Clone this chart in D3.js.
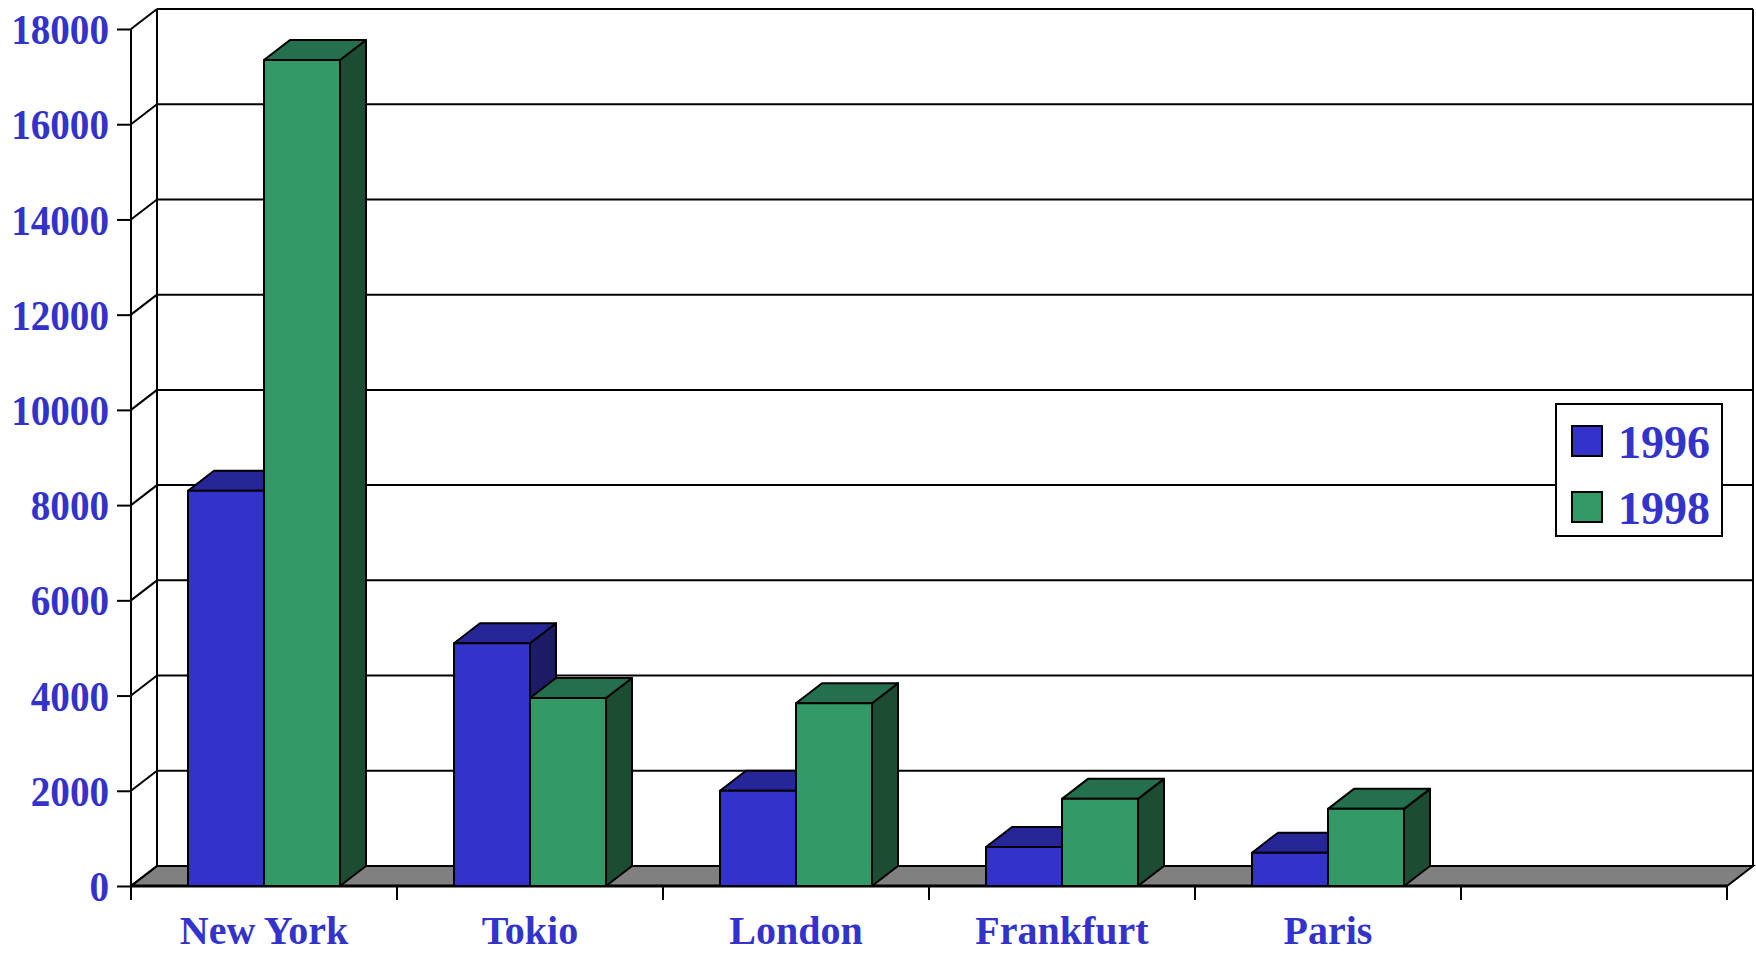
<!DOCTYPE html>
<html>
<head>
<meta charset="utf-8">
<script src="https://cdn.jsdelivr.net/npm/d3@7"></script>
<style>
  body { margin: 0; background: #fff; }
  text { font-family: "Liberation Serif", "Times New Roman", serif; font-weight: bold; fill: #3333cc; }
</style>
</head>
<body>
<div id="chart"></div>
<script>
// data
const categories = ["New York", "Tokio", "London", "Frankfurt", "Paris"];
const seriesNames = ["1996", "1998"];
const values1996 = [8300, 5100, 2000, 820, 700];
const values1998 = [17350, 3950, 3840, 1830, 1620];
const yTicks = [0, 2000, 4000, 6000, 8000, 10000, 12000, 14000, 16000, 18000];

const width = 1756, height = 953;
const DX = 26, DY = -20; // 3d depth offset
const squeeze = 0.91;    // the y labels are a bit condensed in the original
const colors = {
    "1996": {front: "#3333cc", top: "#262699", side: "#1c1c66"},
    "1998": {front: "#339966", top: "#24704e", side: "#1c4d33"}
};

let svg = d3.select("#chart").append("svg")
    .attr("width", width)
    .attr("height", height);

let y = d3.scaleLinear().domain([0, 18000]).range([886, 29]);
// one empty slot at the end, like the original
let x0 = d3.scaleBand().domain([...categories, ""]).range([131, 1727]);
let x1 = d3.scaleBand().domain(seriesNames).range([0, x0.bandwidth()])
    .paddingInner(0).paddingOuter(0.75);

let left = x0.range()[0], right = x0.range()[1];
let base = y(0);

////////// walls //////////
let walls = svg.append("g").attr("stroke", "#000").attr("stroke-width", 2).attr("fill", "none");

// floor
walls.append("polygon")
    .attr("points", [[left, base], [right, base], [right + DX, base + DY], [left + DX, base + DY]].join(" "))
    .attr("fill", "#808080");

// side wall diagonals + back grid
walls.selectAll(".diag").data(yTicks).enter().append("line")
    .attr("x1", left).attr("y1", d => y(d))
    .attr("x2", left + DX).attr("y2", d => y(d) + DY);
walls.selectAll(".grid").data(yTicks).enter().append("line")
    .attr("x1", left + DX).attr("y1", d => y(d) + DY)
    .attr("x2", right + DX).attr("y2", d => y(d) + DY);

walls.append("line")
    .attr("x1", left + DX).attr("y1", y(18000) + DY)
    .attr("x2", left + DX).attr("y2", base + DY);
walls.append("line")
    .attr("x1", right + DX).attr("y1", y(18000) + DY)
    .attr("x2", right + DX).attr("y2", base + DY);

// front axes
walls.append("line")
    .attr("x1", left).attr("y1", y(18000))
    .attr("x2", left).attr("y2", base);
walls.append("line")
    .attr("x1", left).attr("y1", base)
    .attr("x2", right).attr("y2", base)
    .attr("stroke-width", 3);

// category ticks
let bounds = x0.domain().map(d => x0(d)).concat([right]);
walls.selectAll(".ctick").data(bounds).enter().append("line")
    .attr("x1", d => d).attr("y1", base)
    .attr("x2", d => d).attr("y2", base + 14);

////////// y axis //////////
let yAxis = svg.append("g")
    .attr("transform", "translate(" + left + ",0)")
    .call(d3.axisLeft(y).tickValues(yTicks).tickSize(14).tickPadding(8).tickFormat(d3.format("d")));
yAxis.select(".domain").remove();
yAxis.selectAll(".tick line").attr("stroke", "#000").attr("stroke-width", 2);
yAxis.selectAll(".tick text")
    .attr("font-size", 43)
    .attr("fill", "#3333cc")
    .attr("font-family", "Liberation Serif")
    .attr("x", -22 / squeeze)
    .attr("dy", "0.34em")
    .attr("transform", "scale(" + squeeze + ",1)");

////////// bars //////////
let rows = categories.map((c, i) => ({cat: c, vals: [values1996[i], values1998[i]]}));
let bars = svg.append("g").attr("stroke", "#000").attr("stroke-width", 2).attr("stroke-linejoin", "round");

rows.forEach(r => {
    seriesNames.forEach((s, j) => {
        let x = x0(r.cat) + x1(s);
        let w = x1.bandwidth();
        let top = y(r.vals[j]);
        let g = bars.append("g");
        g.append("polygon")
            .attr("points", [[x + w, top], [x + w + DX, top + DY], [x + w + DX, base + DY], [x + w, base]].join(" "))
            .attr("fill", colors[s].side);
        g.append("polygon")
            .attr("points", [[x, top], [x + DX, top + DY], [x + w + DX, top + DY], [x + w, top]].join(" "))
            .attr("fill", colors[s].top);
        g.append("rect")
            .attr("x", x).attr("y", top)
            .attr("width", w).attr("height", base - top)
            .attr("fill", colors[s].front);
    });
});

////////// category labels //////////
svg.append("g").selectAll("text").data(categories).enter().append("text")
    .attr("x", d => x0(d) + x0.bandwidth() / 2)
    .attr("y", 944)
    .attr("text-anchor", "middle")
    .attr("font-size", 40)
    .text(d => d);

////////// legend //////////
let legend = svg.append("g").attr("transform", "translate(1556,404)");
legend.append("rect")
    .attr("width", 166).attr("height", 132)
    .attr("fill", "#fff").attr("stroke", "#000").attr("stroke-width", 2);
let items = legend.selectAll(".item").data(seriesNames).enter().append("g")
    .attr("transform", (d, i) => "translate(16," + (22 + i * 66) + ")");
items.append("rect")
    .attr("width", 30).attr("height", 30)
    .attr("fill", d => colors[d].front)
    .attr("stroke", "#000").attr("stroke-width", 2);
items.append("text")
    .attr("x", 46).attr("y", 32)
    .attr("font-size", 46)
    .text(d => d);
</script>
</body>
</html>
